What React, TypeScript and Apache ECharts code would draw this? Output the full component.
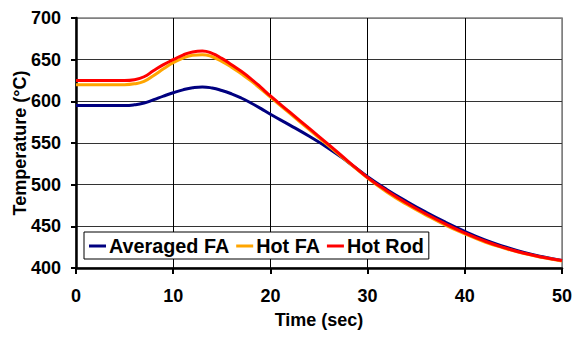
import React, { useEffect, useRef } from "react";
import * as echarts from "echarts";

const timeSec = [0, 2, 4, 5, 6, 7, 8, 9, 10, 11, 12, 13, 14, 15, 16, 17, 18, 19, 20, 22, 24, 26, 28, 30, 32, 34, 36, 38, 40, 42, 44, 46, 48, 50];
const averagedFA = [595, 595, 595, 595, 595.8, 598, 602, 606.3, 610.3, 613.8, 616.3, 617.3, 616, 613, 609, 604, 598, 591.5, 584.5, 571.5, 558, 543.5, 527, 509.5, 494, 480, 467, 455, 444, 434, 426, 419, 413.5, 409];
const hotFA = [620, 620, 620, 620, 621, 624, 631, 639, 646.5, 651.8, 655.2, 656, 653.5, 648, 641, 633, 624.5, 615, 605, 585.5, 566, 546.5, 527, 508, 491, 476.5, 463.5, 451.5, 441, 431.5, 424, 417.5, 412.5, 408.5];
const hotRod = [625, 625, 625, 625, 626, 629.5, 637, 644, 650, 655.5, 659.3, 660.3, 657.5, 651.5, 644, 636, 627, 617, 606.5, 587, 567.5, 548, 528, 508.5, 492.5, 478, 465, 453, 442, 432.5, 424.5, 418, 413, 409];
const seriesNames = ["Averaged FA", "Hot FA", "Hot Rod"];
const seriesColors = ["#000080", "#FFA500", "#FF0000"];
const xTitle = "Time (sec)";
const yTitle = "Temperature (°C)";

const FONT = "'Liberation Sans', Arial, sans-serif";

export default function App() {
  const ref = useRef<HTMLDivElement>(null);
  useEffect(() => {
    if (!ref.current) return;
    const chart = echarts.init(ref.current, null, { renderer: "svg" });
    const all = [averagedFA, hotFA, hotRod];
    chart.setOption({
      animation: false,
      backgroundColor: "#ffffff",
      textStyle: { fontFamily: FONT },
      grid: { left: 76, right: 17, top: 18, bottom: 70, show: true, borderColor: "#808080", borderWidth: 1.5 },
      graphic: [
        {
          type: "text",
          x: 20,
          y: 143,
          rotation: Math.PI / 2,
          style: {
            text: yTitle,
            fontFamily: FONT,
            fontSize: 18,
            fontWeight: "bold",
            fill: "#000",
            textAlign: "center",
            textVerticalAlign: "middle",
          },
        },
      ],
      legend: {
        show: true,
        left: 84,
        top: 232,
        orient: "horizontal",
        backgroundColor: "#ffffff",
        borderColor: "#000000",
        borderWidth: 1,
        borderRadius: 0,
        padding: [4, 5, 3, 5],
        itemGap: 7,
        itemWidth: 17,
        itemHeight: 3,
        icon: "rect",
        textStyle: { fontFamily: FONT, fontSize: 19.8, fontWeight: "bold", color: "#000", padding: [0, 0, 0, -2] },
        data: seriesNames,
      },
      xAxis: {
        type: "value",
        min: 0,
        max: 50,
        interval: 10,
        name: xTitle,
        nameLocation: "middle",
        nameGap: 43,
        nameTextStyle: { fontFamily: FONT, fontSize: 18, fontWeight: "bold", color: "#000" },
        axisLine: { show: true, lineStyle: { color: "#000", width: 2.5 } },
        axisTick: { show: true, length: 6, lineStyle: { color: "#000", width: 2 } },
        axisLabel: { margin: 19, fontFamily: FONT, fontSize: 18, fontWeight: "bold", color: "#000" },
        splitLine: { show: true, lineStyle: { color: ["#000", "#000", "#000", "#000", "#000", "#808080"], width: 1 } },
      },
      yAxis: {
        type: "value",
        min: 400,
        max: 700,
        interval: 50,
        axisLine: { show: true, lineStyle: { color: "#000", width: 2.5 } },
        axisTick: { show: true, length: 5, lineStyle: { color: "#000", width: 2 } },
        axisLabel: { margin: 15, fontFamily: FONT, fontSize: 18, fontWeight: "bold", color: "#000" },
        splitLine: { show: true, lineStyle: { color: ["#000", "#333", "#333", "#333", "#333", "#333", "#808080"], width: 1 } },
      },
      series: seriesNames.map((name, i) => ({
        name,
        type: "line",
        data: timeSec.map((t, j) => [t, all[i][j]]),
        showSymbol: false,
        symbol: "none",
        smooth: 0.5,
        lineStyle: { color: seriesColors[i], width: 3 },
        itemStyle: { color: seriesColors[i] },
        z: 2 + i,
      })),
    });
    return () => chart.dispose();
  }, []);
  return <div ref={ref} style={{ width: 579, height: 338, position: "absolute", left: 0, top: 0 }} />;
}
